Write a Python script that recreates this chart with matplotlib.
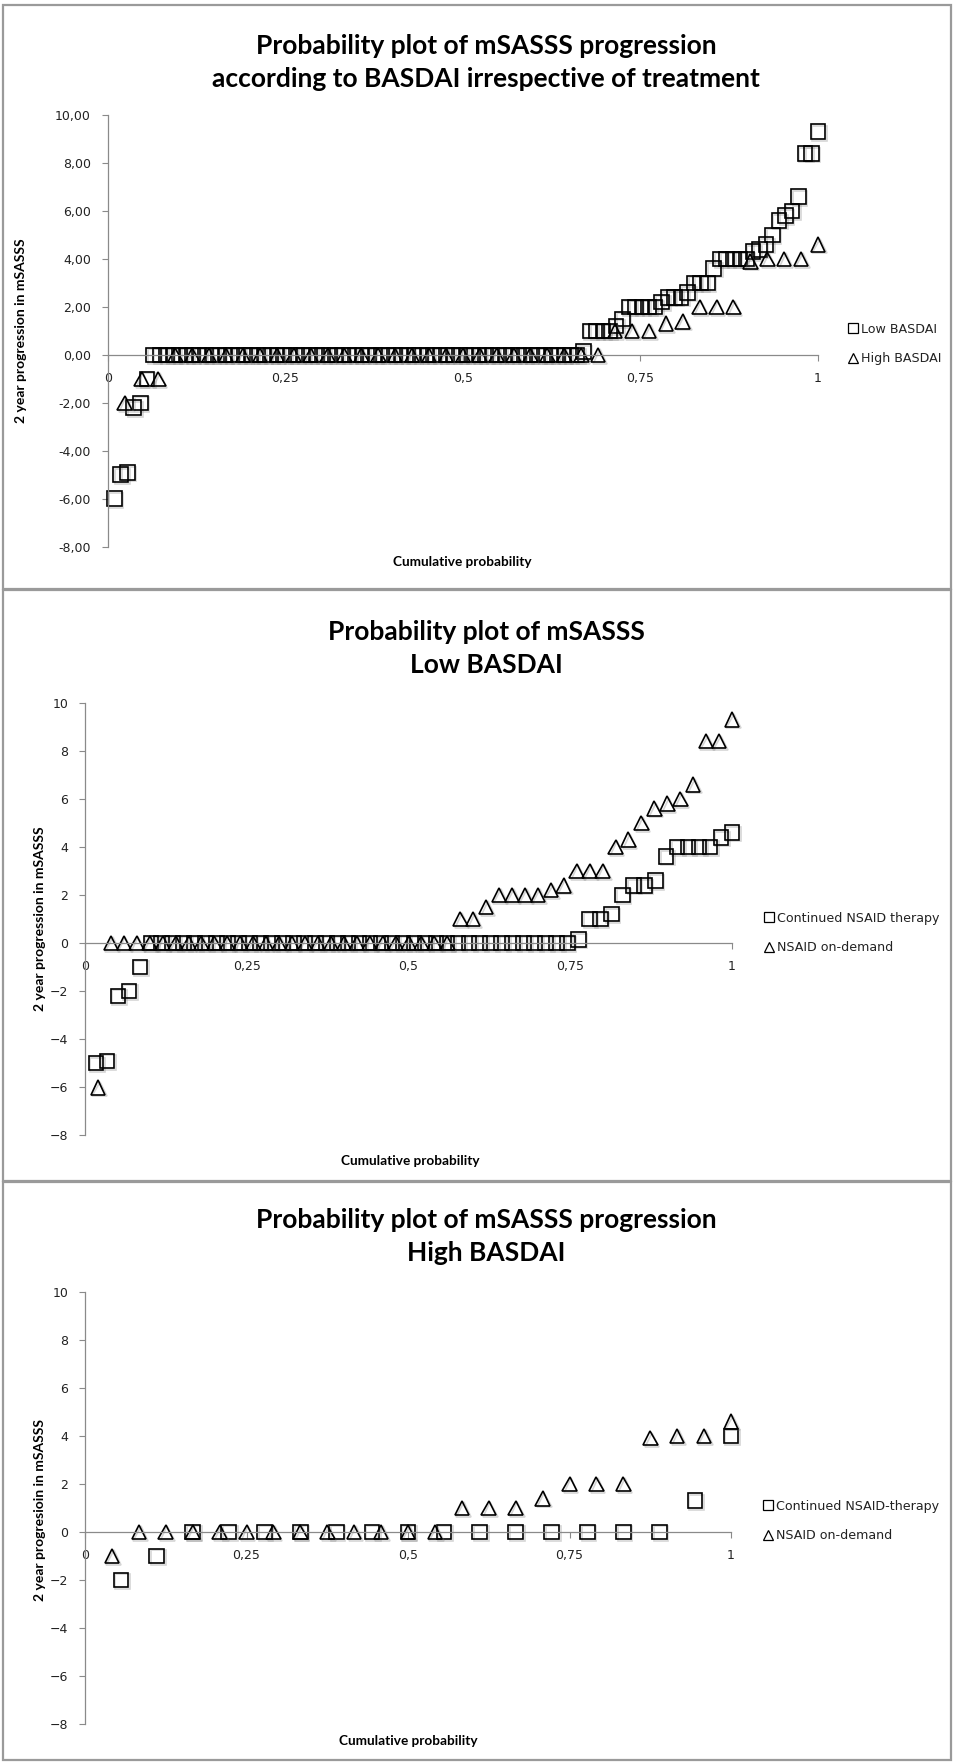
import matplotlib
matplotlib.use("Agg")
import matplotlib.pyplot as plt
import matplotlib.patheffects as pe
import numpy as np
from matplotlib.lines import Line2D
from matplotlib.patches import Rectangle

# mSASSS progression values (2 year change), sorted within each group
low_continued = [-5.0, -4.9, -2.2, -2.0, -1.0] + [0.0] * 39 + [
    0.15, 1.0, 1.0, 1.2, 2.0, 2.4, 2.4, 2.6, 3.6, 4.0, 4.0, 4.0, 4.0, 4.4, 4.6]
low_on_demand = [-6.0] + [0.0] * 27 + [
    1.0, 1.0, 1.5, 2.0, 2.0, 2.0, 2.0, 2.2, 2.4, 3.0, 3.0, 3.0,
    4.0, 4.3, 5.0, 5.6, 5.8, 6.0, 6.6, 8.4, 8.4, 9.3]
high_continued = [-2.0, -1.0] + [0.0] * 14 + [1.3, 4.0]
high_on_demand = [-1.0] + [0.0] * 12 + [
    1.0, 1.0, 1.0, 1.4, 2.0, 2.0, 2.0, 3.9, 4.0, 4.0, 4.6]

# irrespective of treatment: pool both arms
low_basdai = sorted(low_continued + low_on_demand)
high_basdai = sorted(high_continued + high_on_demand)

x_ticks = [0, 0.25, 0.5, 0.75, 1]
x_ticklabels = ["0", "0,25", "0,5", "0,75", "1"]
y_ticks = [-8, -6, -4, -2, 0, 2, 4, 6, 8, 10]

W, H = 955, 1763
fig = plt.figure(figsize=(W / 100, H / 100), dpi=100)
fig.patch.set_facecolor("white")

TITLE_FONT = ["Lato", "DejaVu Sans"]
TEXT_FONT = ["DejaVu Sans"]
GRAY = "#8a8a8a"
SHADOW = [pe.SimpleLineShadow(offset=(1.2, -1.2), shadow_color="#777777", alpha=0.3),
          pe.Normal()]


def fx(px):
    return px / W


def fy(py):
    return 1 - py / H


def make_axes(x0, x1, ytop, ybot):
    ax = fig.add_axes([fx(x0), fy(ybot), (x1 - x0) / W, (ybot - ytop) / H])
    ax.set_xlim(0, 1)
    ax.set_ylim(-8, 10)
    ax.set_facecolor("none")
    for s in ["top", "right"]:
        ax.spines[s].set_visible(False)
    ax.spines["bottom"].set_position(("data", 0))
    for s in ["left", "bottom"]:
        ax.spines[s].set_color(GRAY)
        ax.spines[s].set_linewidth(0.9)
    ax.set_xticks(x_ticks)
    ax.set_xticklabels(x_ticklabels)
    ax.set_yticks(y_ticks)
    ax.tick_params(axis="both", direction="out", length=4, width=0.8,
                   color=GRAY, labelsize=9, labelcolor="#222222")
    ax.tick_params(axis="x", pad=8)
    ax.tick_params(axis="y", pad=8)
    for lab in ax.get_xticklabels() + ax.get_yticklabels():
        lab.set_family(TEXT_FONT)
    return ax


def prob_plot(ax, values, marker):
    values = np.asarray(values)
    n = len(values)
    p = np.arange(1, n + 1) / n
    ax.plot(p, values, linestyle="none", marker=marker, markersize=10.5,
            markerfacecolor="none", markeredgecolor="black",
            markeredgewidth=1.2, clip_on=False, path_effects=SHADOW)


def add_legend(ax, labels, x, y):
    handles = [
        Line2D([], [], linestyle="none", marker="s", markersize=7,
               markerfacecolor="none", markeredgecolor="black", markeredgewidth=0.9),
        Line2D([], [], linestyle="none", marker="^", markersize=7,
               markerfacecolor="none", markeredgecolor="black", markeredgewidth=0.9),
    ]
    leg = ax.legend(handles, labels, loc="center left",
                    bbox_to_anchor=(fx(x), fy(y)), bbox_transform=fig.transFigure,
                    frameon=False, handlelength=0.7, handletextpad=0.25,
                    labelspacing=1.3, borderpad=0, borderaxespad=0,
                    prop={"family": TEXT_FONT, "size": 9.1})
    for t in leg.get_texts():
        t.set_color("#222222")


def title(lines, y1, y2):
    for text, y in zip(lines, (y1, y2)):
        fig.text(fx(486), fy(y), text, ha="center", va="center",
                 family=TITLE_FONT, weight="bold", size=19)


def axis_labels(xlabel_xy, ylabel, ylabel_xy):
    fig.text(fx(xlabel_xy[0]), fy(xlabel_xy[1]), "Cumulative probability",
             ha="center", va="center", family=TITLE_FONT, weight="bold", size=9.8)
    fig.text(fx(ylabel_xy[0]), fy(ylabel_xy[1]), ylabel, ha="center",
             va="center", rotation=90, family=TITLE_FONT, weight="bold", size=10)


# panel frames
for top, bot in [(5, 589), (590, 1181), (1182, 1760)]:
    fig.patches.append(Rectangle((fx(3), fy(bot)), (951 - 3) / W, (bot - top) / H,
                                 transform=fig.transFigure, fill=False,
                                 edgecolor="#9a9a9a", linewidth=1.6))

# panel 1: low vs high BASDAI
ax1 = make_axes(107.7, 818, 115, 546.7)
ax1.set_yticklabels([f"{v},00" for v in y_ticks])
prob_plot(ax1, low_basdai, "s")
prob_plot(ax1, high_basdai, "^")
title(["Probability plot of mSASSS progression",
       "according to BASDAI irrespective of treatment"], 46, 79)
axis_labels((462, 562), "2 year progression in mSASSS", (21, 331))
add_legend(ax1, ["Low BASDAI", "High BASDAI"], 849, 344)

# panel 2: low BASDAI by treatment strategy
ax2 = make_axes(85, 732, 702.7, 1135.3)
prob_plot(ax2, low_continued, "s")
prob_plot(ax2, low_on_demand, "^")
title(["Probability plot of mSASSS", "Low BASDAI"], 632, 665)
axis_labels((410, 1161), "2 year progression in mSASSS", (40, 919))
add_legend(ax2, ["Continued NSAID therapy", "NSAID on-demand"], 765, 933)

# panel 3: high BASDAI by treatment strategy
ax3 = make_axes(85, 731, 1291.7, 1724)
prob_plot(ax3, high_continued, "s")
prob_plot(ax3, high_on_demand, "^")
title(["Probability plot of mSASSS progression", "High BASDAI"], 1220, 1253)
axis_labels((408, 1741), "2 year progresioin in mSASSS", (40, 1510))
add_legend(ax3, ["Continued NSAID-therapy", "NSAID on-demand"], 764, 1521)

fig.savefig("out.png", dpi=100, facecolor="white")
